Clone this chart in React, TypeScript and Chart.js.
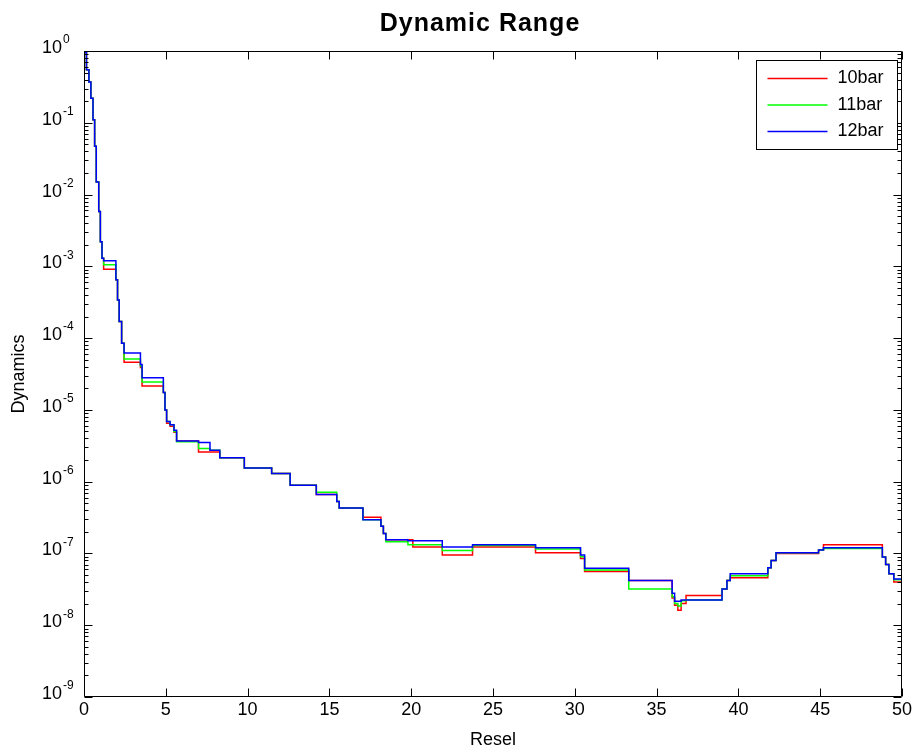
import React, { useEffect, useRef } from 'react';
import { Chart, registerables } from 'chart.js';

Chart.register(...registerables);

const FONT = "'Liberation Sans', Arial, sans-serif";

const chartTitle = 'Dynamic Range';
const xTitle = 'Resel';
const yTitle = 'Dynamics';
const seriesNames = ['10bar', '11bar', '12bar'];
const seriesColors = ['#ff0000', '#00ff00', '#0000ff'];

const xTickValues = [0, 5, 10, 15, 20, 25, 30, 35, 40, 45, 50];
const yDecades = [0, -1, -2, -3, -4, -5, -6, -7, -8, -9];

// Resel breakpoints (each value holds until the next breakpoint)
const resel = [
  0, 0.15, 0.3, 0.42, 0.55, 0.65, 0.75, 0.9, 1.0, 1.1,
  1.2, 1.95, 2.05, 2.15, 2.3, 2.45, 3.45, 3.55, 4.85, 4.95,
  5.05, 5.26, 5.5, 5.66, 7.0, 7.7, 8.3, 9.8, 11.47, 12.6,
  14.2, 15.45, 15.6, 17.05, 18.15, 18.3, 18.45, 19.8, 20.1, 21.9,
  23.75, 27.6, 30.35, 30.6, 33.3, 35.95, 36.1, 36.3, 36.5, 36.8,
  39.0, 39.3, 39.5, 41.8, 42.0, 42.3, 44.9, 45.2, 48.8, 49.0,
  49.2, 49.5, 50,
];

const bar10 = [
  0.95, 0.55, 0.37, 0.22, 0.11, 0.047, 0.015, 5.8e-3, 2.2e-3, 1.3e-3,
  9.1e-4, 6.5e-4, 3.4e-4, 1.7e-4, 8.5e-5, 4.6e-5, 3.9e-5, 2.15e-5, 1.75e-5, 1.0e-5,
  6.5e-6, 5.9e-6, 4.9e-6, 3.7e-6, 2.6e-6, 2.6e-6, 2.15e-6, 1.55e-6, 1.3e-6, 8.9e-7,
  6.6e-7, 5.3e-7, 4.3e-7, 3.2e-7, 2.4e-7, 1.9e-7, 1.55e-7, 1.55e-7, 1.23e-7, 9.5e-8,
  1.23e-7, 1.02e-7, 8.5e-8, 5.6e-8, 4.2e-8, 2.4e-8, 1.9e-8, 1.62e-8, 2.0e-8, 2.6e-8,
  3.2e-8, 4.2e-8, 4.6e-8, 6.3e-8, 8.0e-8, 1.0e-7, 1.12e-7, 1.32e-7, 8.9e-8, 7.0e-8,
  5.2e-8, 4.0e-8, 4.0e-8,
];

const bar11 = [
  0.95, 0.55, 0.37, 0.22, 0.11, 0.047, 0.015, 5.8e-3, 2.2e-3, 1.3e-3,
  1.05e-3, 6.5e-4, 3.4e-4, 1.7e-4, 8.5e-5, 5.1e-5, 4.1e-5, 2.45e-5, 1.75e-5, 1.0e-5,
  6.9e-6, 6.2e-6, 5.0e-6, 3.6e-6, 2.9e-6, 2.75e-6, 2.15e-6, 1.55e-6, 1.3e-6, 8.9e-7,
  7.1e-7, 5.3e-7, 4.3e-7, 2.95e-7, 2.4e-7, 1.9e-7, 1.45e-7, 1.32e-7, 1.32e-7, 1.1e-7,
  1.29e-7, 1.15e-7, 9.0e-8, 5.9e-8, 3.2e-8, 2.5e-8, 2.0e-8, 1.86e-8, 2.2e-8, 2.25e-8,
  3.2e-8, 4.2e-8, 4.9e-8, 6.3e-8, 8.0e-8, 1.02e-7, 1.12e-7, 1.17e-7, 8.9e-8, 7.0e-8,
  5.2e-8, 4.3e-8, 4.3e-8,
];

const bar12 = [
  0.95, 0.55, 0.37, 0.22, 0.11, 0.047, 0.015, 5.8e-3, 2.2e-3, 1.3e-3,
  1.2e-3, 6.5e-4, 3.4e-4, 1.7e-4, 8.5e-5, 6.2e-5, 4.3e-5, 2.8e-5, 1.75e-5, 1.0e-5,
  6.9e-6, 6.2e-6, 5.2e-6, 3.7e-6, 3.5e-6, 2.75e-6, 2.15e-6, 1.55e-6, 1.3e-6, 8.9e-7,
  6.6e-7, 5.3e-7, 4.3e-7, 2.95e-7, 2.4e-7, 1.9e-7, 1.55e-7, 1.5e-7, 1.5e-7, 1.23e-7,
  1.32e-7, 1.2e-7, 9.5e-8, 6.2e-8, 4.2e-8, 2.8e-8, 2.15e-8, 2.15e-8, 2.25e-8, 2.25e-8,
  3.2e-8, 4.2e-8, 5.2e-8, 6.3e-8, 8.0e-8, 1.02e-7, 1.12e-7, 1.2e-7, 8.9e-8, 7.0e-8,
  5.2e-8, 4.4e-8, 4.4e-8,
];

const seriesValues = [bar10, bar11, bar12];

const framePlugin = {
  id: 'matlabFrame',
  afterDatasetsDraw(chart: any) {
    const { ctx, chartArea: a, scales } = chart;
    const xs = scales.x;
    const ys = scales.y;
    ctx.save();
    ctx.strokeStyle = '#000';
    ctx.lineWidth = 1;
    const L = Math.round(a.left) + 0.5;
    const R = Math.round(a.right) - 0.5;
    const T = Math.round(a.top) + 0.5;
    const B = Math.round(a.bottom) - 0.5;
    ctx.beginPath();
    ctx.rect(L, T, R - L, B - T);
    // x ticks, inward, top and bottom
    xTickValues.forEach((v) => {
      const px = Math.round(xs.getPixelForValue(v)) + 0.5;
      ctx.moveTo(px, B);
      ctx.lineTo(px, B - 8);
      ctx.moveTo(px, T);
      ctx.lineTo(px, T + 8);
    });
    // y ticks (log), major and minor, left and right
    yDecades.forEach((d) => {
      const base = Math.pow(10, d);
      const py = Math.round(ys.getPixelForValue(base)) + 0.5;
      ctx.moveTo(L, py);
      ctx.lineTo(L + 8, py);
      ctx.moveTo(R, py);
      ctx.lineTo(R - 8, py);
      if (d < 0) {
        for (let k = 2; k <= 9; k++) {
          const pm = Math.round(ys.getPixelForValue(k * base)) + 0.5;
          ctx.moveTo(L, pm);
          ctx.lineTo(L + 4, pm);
          ctx.moveTo(R, pm);
          ctx.lineTo(R - 4, pm);
        }
      }
    });
    ctx.stroke();

    // y tick labels: 10 with superscript exponent
    ctx.fillStyle = '#000';
    yDecades.forEach((d) => {
      const py = ys.getPixelForValue(Math.pow(10, d));
      const xr = a.left - 22;
      ctx.font = `18px ${FONT}`;
      ctx.textAlign = 'right';
      ctx.textBaseline = 'middle';
      ctx.fillText('10', xr, py - 3);
      ctx.font = `12px ${FONT}`;
      ctx.textAlign = 'left';
      ctx.fillText(String(d), xr + 1, py - 11);
    });

    // legend box
    const bx = Math.round(a.right) - 146 + 0.5;
    const by = Math.round(a.top) + 9 + 0.5;
    const bw = 141;
    const bh = 89;
    ctx.fillStyle = '#fff';
    ctx.fillRect(bx, by, bw, bh);
    ctx.strokeStyle = '#000';
    ctx.lineWidth = 1;
    ctx.strokeRect(bx, by, bw, bh);
    seriesNames.forEach((name, i) => {
      const ry = by + 18 + i * 26.5;
      ctx.strokeStyle = seriesColors[i];
      ctx.lineWidth = 1.5;
      ctx.beginPath();
      ctx.moveTo(bx + 11, ry);
      ctx.lineTo(bx + 71, ry);
      ctx.stroke();
      ctx.fillStyle = '#000';
      ctx.font = `18px ${FONT}`;
      ctx.textAlign = 'left';
      ctx.textBaseline = 'middle';
      ctx.fillText(name, bx + 81, ry);
    });

    // chart title
    ctx.fillStyle = '#000';
    ctx.font = `bold 25px ${FONT}`;
    ctx.textAlign = 'center';
    ctx.textBaseline = 'middle';
    try {
      (ctx as any).letterSpacing = '1px';
    } catch (e) {
      /* ignore */
    }
    ctx.fillText(chartTitle, 480, 24);
    try {
      (ctx as any).letterSpacing = '0px';
    } catch (e) {
      /* ignore */
    }
    ctx.restore();
  },
};

export default function App() {
  const canvasRef = useRef<HTMLCanvasElement | null>(null);

  useEffect(() => {
    const canvas = canvasRef.current;
    if (!canvas) return;
    Chart.defaults.font.family = FONT;
    Chart.defaults.color = '#000';
    const datasets = seriesNames.map((name, i) => ({
      label: name,
      data: resel.map((x, j) => ({ x, y: seriesValues[i][j] })),
      borderColor: seriesColors[i],
      backgroundColor: seriesColors[i],
      borderWidth: 1.5,
      pointRadius: 0,
      stepped: 'before' as const,
      fill: false,
      order: 3 - i,
    }));
    const chart = new Chart(canvas, {
      type: 'line',
      data: { datasets },
      options: {
        responsive: false,
        animation: false,
        layout: { padding: { left: 0, right: 12, top: 51, bottom: 0 } },
        plugins: {
          legend: { display: false },
          tooltip: { enabled: false },
          title: { display: false },
        },
        scales: {
          x: {
            type: 'linear',
            min: 0,
            max: 50,
            afterBuildTicks: (s: any) => {
              s.ticks = xTickValues.map((v) => ({ value: v }));
            },
            ticks: { font: { size: 18 }, color: '#000', padding: 2, maxRotation: 0, autoSkip: false },
            grid: { display: false, drawTicks: false },
            border: { display: false },
            title: { display: true, text: xTitle, color: '#000', font: { size: 18 }, padding: { top: 0, bottom: 2 } },
            afterFit: (s: any) => {
              s.height = 56;
            },
          },
          y: {
            type: 'logarithmic',
            min: 1e-9,
            max: 1,
            ticks: { display: false },
            grid: { display: false, drawTicks: false },
            border: { display: false },
            title: { display: true, text: yTitle, color: '#000', font: { size: 18 }, padding: { top: 8, bottom: 0 } },
            afterFit: (s: any) => {
              s.width = 84;
            },
          },
        },
      },
      plugins: [framePlugin],
    });
    return () => chart.destroy();
  }, []);

  return (
    <div style={{ position: 'fixed', left: 0, top: 0, width: 914, height: 753, background: '#fff' }}>
      <canvas ref={canvasRef} width={914} height={753} style={{ display: 'block' }} />
    </div>
  );
}
